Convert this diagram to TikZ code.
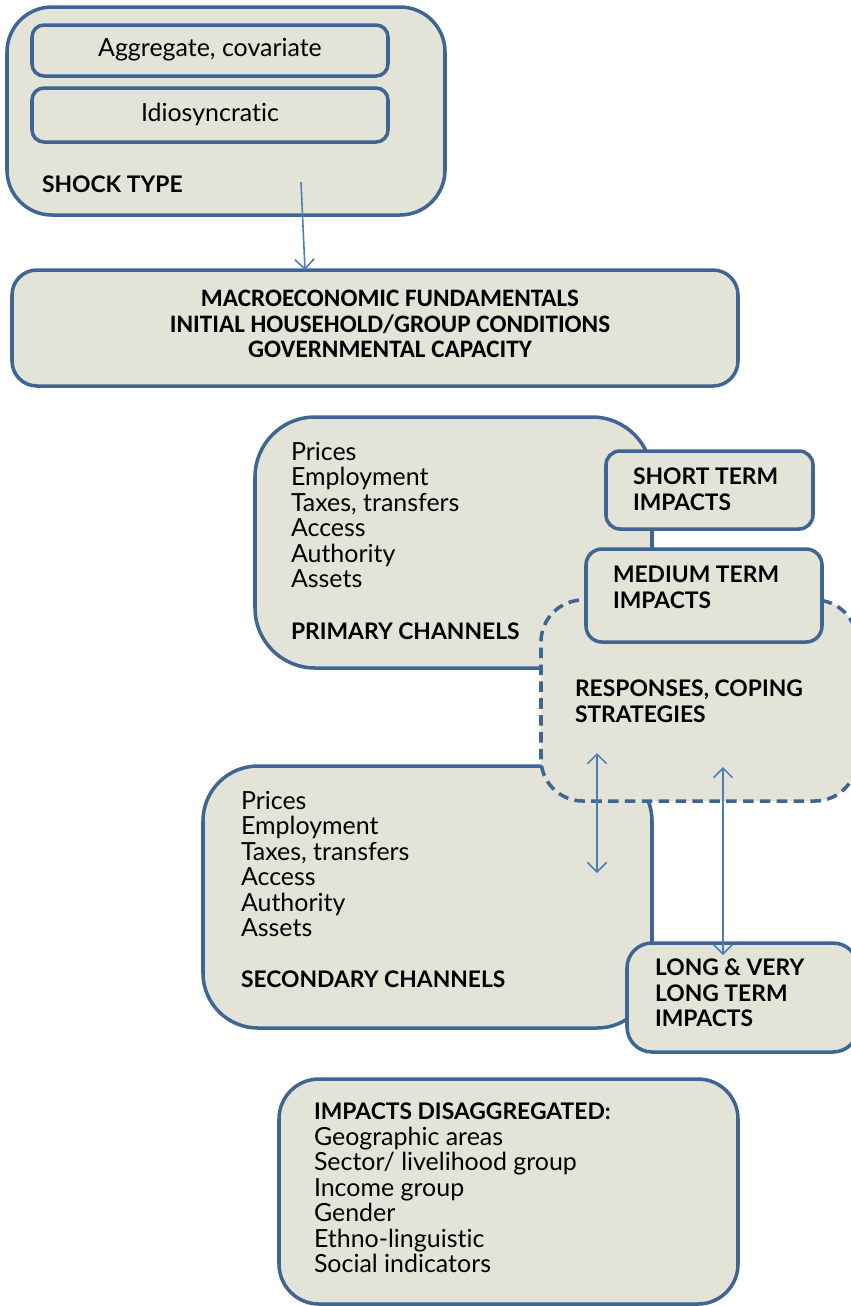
\documentclass[tikz,border=0pt]{standalone}
\usepackage{fontspec}
\setmainfont{Lato}[Ligatures=NoCommon]
\newfontfamily\narrowbold{Carlito}[BoldFont={Carlito Bold}]
\usetikzlibrary{fit,arrows.meta}

\definecolor{edge}{HTML}{3F6592}
\definecolor{panel}{HTML}{E4E3D8}
\definecolor{link}{HTML}{4A7EBB}

\tikzset{
  box/.style={draw=edge, fill=panel, line width=2pt, inner sep=0pt, outer sep=0pt},
  dashbox/.style={box, dash pattern=on 6pt off 3.6pt},
  txt/.style={inner sep=0pt, outer sep=0pt, font=\fontsize{14.2}{14.5}\selectfont, align=left},
  bigtxt/.style={txt, font=\fontsize{13}{14.5}\selectfont\bfseries},
  link arrow/.style={draw=link, line width=0.9pt, arrows={-Straight Barb[length=5.5pt,width=11pt]}},
  both arrow/.style={draw=link, line width=0.9pt, arrows={Straight Barb[length=5.5pt,width=11pt]-Straight Barb[length=5.5pt,width=11pt]}}
}

\begin{document}
\begin{tikzpicture}[x=0.02cm, y=-0.02cm]
\path[use as bounding box] (0,0) rectangle (851,1306);
\clip (0,0) rectangle (851,1306);

% shock type panel with its two kinds
\node[box, rounded corners=0.9cm, fit={(7,7) (445,215)}] (shock) {};
\node[box, rounded corners=0.24cm, fit={(32,25) (388,76)}] (aggr) {};
\node[box, rounded corners=0.24cm, fit={(32,88) (388,142)}] (idio) {};
\node[txt] (aggrtxt) at (210,50) {Aggregate, covariate};
\node[txt] (idiotxt) at (210,114) {Idiosyncratic};
\node[bigtxt, anchor=west] (shocktxt) at (42,184) {SHOCK TYPE};

% initial conditions
\node[box, rounded corners=0.5cm, fit={(12,270) (738,386)}] (macro) {};
\node[inner sep=0pt, align=center, font=\narrowbold\fontsize{14.3}{14.5}\selectfont\bfseries] (macrotxt) at (390,324)
  {MACROECONOMIC FUNDAMENTALS\\INITIAL HOUSEHOLD/GROUP CONDITIONS\\GOVERNMENTAL CAPACITY};

% transmission channels
\node[box, rounded corners=1.2cm, fit={(255,417) (652,668)}] (primary) {};
\node[box, rounded corners=1.1cm, fit={(203,766) (652,1028)}] (secondary) {};
\node[dashbox, rounded corners=0.84cm, fit={(541,600) (857,801)}] (responses) {};
\node[box, rounded corners=0.28cm, fit={(606,451) (813,529)}] (short) {};
\node[box, rounded corners=0.32cm, fit={(586,549) (822,642)}] (medium) {};
\node[box, rounded corners=0.5cm, fit={(627,943) (858,1052)}] (long) {};

\node[txt, anchor=north west] (primlist) at (291,442)
  {Prices\\Employment\\Taxes, transfers\\Access\\Authority\\Assets};
\node[bigtxt, anchor=west] (primtxt) at (291,631) {PRIMARY CHANNELS};
\node[bigtxt, anchor=north west] (shorttxt) at (633,468) {SHORT TERM\\IMPACTS};
\node[bigtxt, anchor=north west] (mediumtxt) at (613,566) {MEDIUM TERM\\IMPACTS};
\node[bigtxt, anchor=north west] (resptxt) at (575,680) {RESPONSES, COPING\\STRATEGIES};
\node[txt, anchor=north west] (seclist) at (241,791)
  {Prices\\Employment\\Taxes, transfers\\Access\\Authority\\Assets};
\node[bigtxt, anchor=west] (sectxt) at (241,979) {SECONDARY CHANNELS};
\node[bigtxt, anchor=north west] (longtxt) at (655,959) {LONG \& VERY\\LONG TERM\\IMPACTS};

% disaggregation
\node[box, rounded corners=0.8cm, fit={(279,1079) (738,1304)}] (disagg) {};
\node[txt, anchor=north west] (disaggtxt) at (314,1103)
  {\textbf{\fontsize{13}{14.5}\selectfont IMPACTS DISAGGREGATED:}\\Geographic areas\\Sector/ livelihood group\\Income group\\Gender\\Ethno-linguistic\\Social indicators};

% connectors
\coordinate (shockfoot) at (301,182);
\coordinate (macrotop) at (305,270);
\draw[link arrow] (shockfoot) -- (macrotop);

\coordinate (respA) at (597,753);
\coordinate (secA) at (597,873);
\draw[both arrow] (respA) -- (secA);

\coordinate (respB) at (723,767);
\coordinate (longB) at (723,955);
\draw[both arrow] (respB) -- (longB);
\end{tikzpicture}
\end{document}
